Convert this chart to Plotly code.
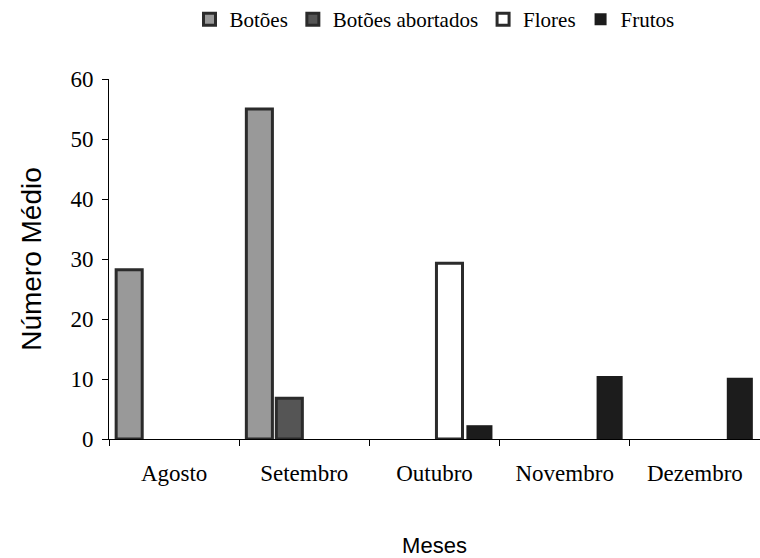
import plotly.graph_objects as go

meses = ["Agosto", "Setembro", "Outubro", "Novembro", "Dezembro"]
botoes = [28.2, 55.0, None, None, None]
botoes_abortados = [None, 6.8, None, None, None]
flores = [None, None, 29.3, None, None]
frutos = [None, None, 2.3, 10.5, 10.2]

series = [
    ("Botões", botoes, "#999999", "#2b2b2b", 3),
    ("Botões abortados", botoes_abortados, "#555555", "#2b2b2b", 3),
    ("Flores", flores, "#ffffff", "#2b2b2b", 3),
    ("Frutos", frutos, "#1c1c1c", "#1c1c1c", 0),
]

fig = go.Figure()
for name, vals, fill, lc, lw in series:
    fig.add_trace(go.Bar(
        x=meses, y=vals, name=name,
        marker=dict(color=fill, line=dict(color=lc, width=lw)),
    ))

serif = "Liberation Serif, Times New Roman, serif"
sans = "Liberation Sans, Arial, sans-serif"

fig.update_layout(
    width=760, height=558,
    margin=dict(l=109, r=0, t=79, b=119, autoexpand=False),
    paper_bgcolor="white", plot_bgcolor="white",
    barmode="group", bargap=0.08, bargroupgap=0.13,
    font=dict(family=serif, color="black", size=22),
    legend=dict(orientation="h", x=0.5, xanchor="center", y=1.165, yanchor="middle",
                font=dict(family=serif, size=21), itemwidth=30, traceorder="normal"),
    xaxis=dict(
        showline=True, linecolor="black", linewidth=1,
        ticks="outside", ticklen=6, tickcolor="black", tickson="boundaries",
        tickfont=dict(family=serif, size=23), ticklabelstandoff=13,
        title=dict(text="Meses", font=dict(family=sans, size=22), standoff=53),
        showgrid=False, zeroline=False,
    ),
    yaxis=dict(
        range=[0, 60], dtick=10,
        showline=True, linecolor="black", linewidth=1,
        ticks="outside", ticklen=6, tickcolor="black",
        tickfont=dict(family=serif, size=23), ticklabelstandoff=4,
        title=dict(text="Número Médio", font=dict(family=sans, size=28), standoff=20),
        showgrid=False, zeroline=False,
    ),
)

fig.write_html("out.html", config={"displayModeBar": False},
               post_script="document.body.style.margin='0';document.body.style.overflow='hidden';")
